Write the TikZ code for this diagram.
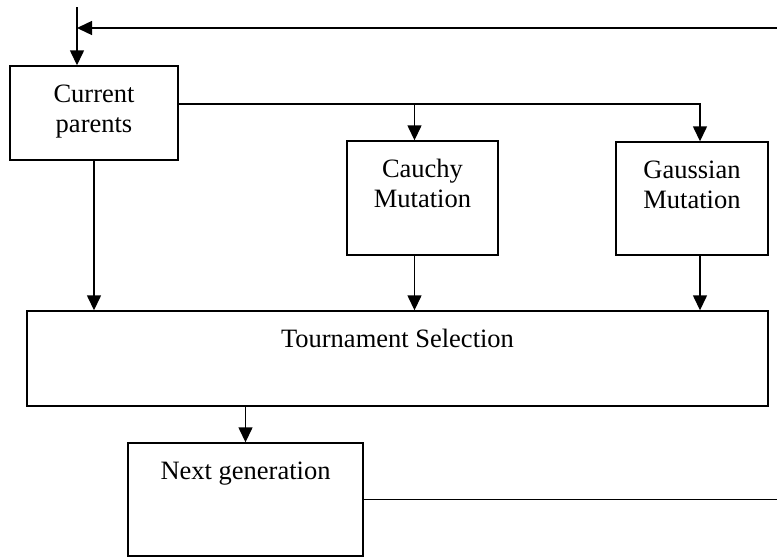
\documentclass[tikz,border=0pt]{standalone}
\usepackage{fontspec}
\setmainfont{Liberation Serif}
\usetikzlibrary{arrows.meta}

\begin{document}
\begin{tikzpicture}[x=1pt,y=-1pt,
  box/.style={draw, rectangle, line width=1.4pt, inner sep=0pt},
  boxtext/.style={anchor=north, inner sep=0pt, yshift=-19pt, align=center,
    font=\fontsize{26.5}{30}\selectfont},
  flow/.style={line width=1.4pt, -{Triangle[length=15pt,width=14pt]}},
  wire/.style={line width=1.4pt}]
\useasboundingbox (0,0) rectangle (777,557);

\node[box, minimum width=168pt, minimum height=94pt,
  label={[boxtext]north:{Current\\parents}}] (cp) at (94,113) {};
\node[box, minimum width=151pt, minimum height=114pt,
  label={[boxtext]north:{Cauchy\\Mutation}}] (cm) at (422.5,198) {};
\node[box, minimum width=152pt, minimum height=113pt,
  label={[boxtext]north:{Gaussian\\Mutation}}] (gm) at (692,198.5) {};
\node[box, minimum width=741pt, minimum height=95pt,
  label={[boxtext]north:{Tournament Selection}}] (ts) at (397.5,358.5) {};
\node[box, minimum width=235pt, minimum height=113pt,
  label={[boxtext]north:{Next generation}}] (ng) at (245.5,499.5) {};

\coordinate (top) at (77,7);
\coordinate (loopR) at (777,28);

% feedback into current parents
\path[draw,flow] (top) -- (top |- cp.north);
\path[draw,flow] (loopR) -- (top |- loopR);

% parents to mutations
\path[draw,flow] ([yshift=9pt]cp.east) -| ([xshift=-8pt]cm.north);
\path[draw,flow] ([yshift=9pt]cp.east) -| ([xshift=8pt]gm.north);

% into selection
\path[draw,flow] (cp.south) -- (cp.south |- ts.north);
\path[draw,flow] ([xshift=-8pt]cm.south) -- ([xshift=-8pt]cm.south |- ts.north);
\path[draw,flow] ([xshift=8pt]gm.south) -- ([xshift=8pt]gm.south |- ts.north);

% selection to next generation
\path[draw,flow] (ng.north |- ts.south) -- (ng.north);
\path[draw,wire] (ng.east) -- (ng.east -| loopR);
\end{tikzpicture}
\end{document}
